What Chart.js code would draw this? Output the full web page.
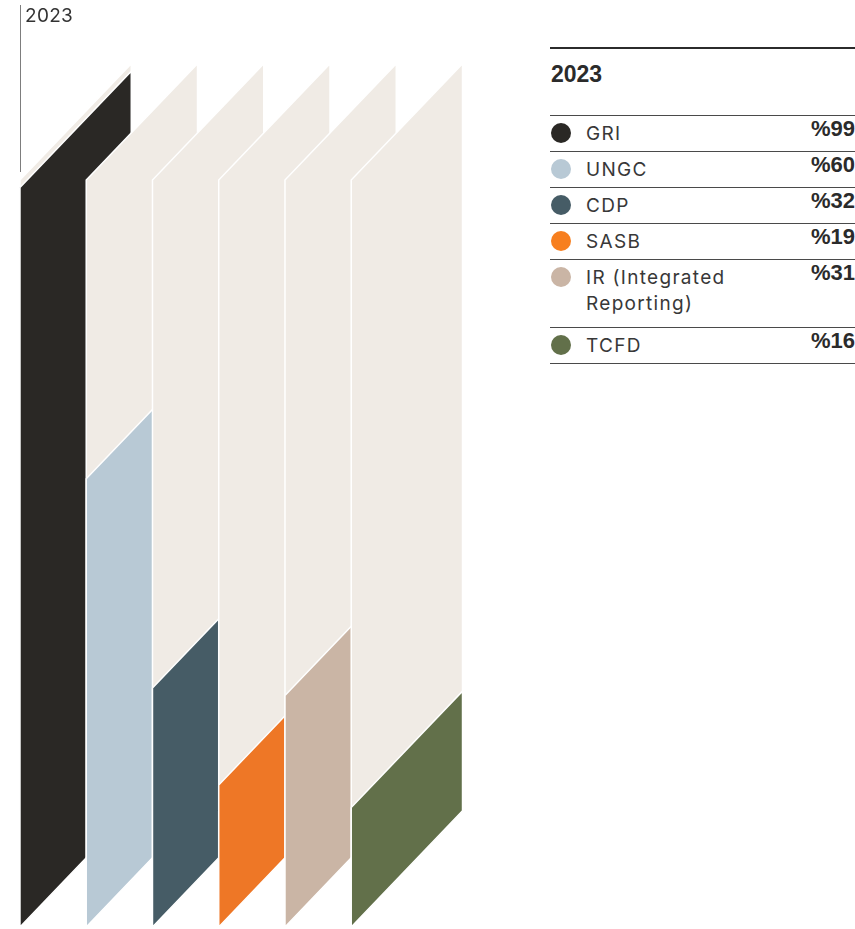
<!DOCTYPE html>
<html>
<head>
<meta charset="utf-8">
<script src="https://cdn.jsdelivr.net/npm/chart.js@4.4.1/dist/chart.umd.min.js"></script>
<style>
  html, body { margin:0; padding:0; background:#ffffff; width:855px; height:929px; overflow:hidden; }
  body { position:relative; font-family: Inter, "Noto Sans", sans-serif; color:#333; }
  #chartBox { position:absolute; left:0; top:0; width:480px; height:929px; }
  #yearTag { position:absolute; left:20px; top:5px; height:167px; border-left:1.5px solid #7d7d7d;
             padding-left:4px; font-size:19px; line-height:21px; color:#333; letter-spacing:0.3px; }
  #legend { position:absolute; left:550px; top:47px; width:305px; border-top:2px solid #2b2b2b; }
  #legendTitle { height:66px; font-family:"Liberation Sans", Arial, sans-serif; font-weight:bold;
                 font-size:23px; line-height:50px; color:#2b2b2b; padding-left:1px;
                 border-bottom:1px solid #4a4a4a; }
  .row { position:relative; border-bottom:1px solid #4a4a4a; box-sizing:border-box; }
  .dot { position:absolute; left:1px; width:20px; height:20px; border-radius:50%; }
  .lab { position:absolute; left:36px; width:190px; font-size:19px; line-height:26px; color:#383838;
         letter-spacing:1.3px; }
  .val { position:absolute; right:0; font-family:"Liberation Sans", Arial, sans-serif; font-weight:bold;
         font-size:22px; line-height:26px; color:#2b2b2b; }
</style>
</head>
<body>
<div id="chartBox"><canvas id="c" width="480" height="929"></canvas></div>
<div id="yearTag">2023</div>
<div id="legend"><div id="legendTitle">2023</div></div>
<script>
// ---- data ----
const categories = ['GRI', 'UNGC', 'CDP', 'SASB', 'IR (Integrated Reporting)', 'TCFD'];
const values = [99, 60, 32, 19, 31, 16];
const fullScale = [100, 100, 100, 100, 100, 100];
const valueLabels = ['%99', '%60', '%32', '%19', '%31', '%16'];
const yearLabel = '2023';

// ---- styles ----
const barColors = ['#2a2825', '#b8c9d5', '#465c66', '#ee7726', '#cab5a5', '#62704a'];
const dotColors = ['#2a2825', '#b8c9d5', '#465c66', '#f77f1f', '#cab5a5', '#62704a'];
const BEIGE = '#f0ebe5';
const SLANT = 1.045;

const slantPlugin = {
  id: 'slant',
  beforeDatasetsDraw(chart) {
    const c = chart.ctx;
    const metas = [chart.getDatasetMeta(0), chart.getDatasetMeta(1)];
    c.save();
    for (let i = 0; i < categories.length; i++) {
      metas.forEach(meta => {
        const el = meta.data[i];
        const p = el.getProps(['x', 'y', 'base', 'width'], true);
        const l = p.x - p.width / 2, r = p.x + p.width / 2;
        const rise = SLANT * p.width;
        c.beginPath();
        c.moveTo(l, p.base);
        c.lineTo(l, p.y);
        c.lineTo(r, p.y - rise);
        c.lineTo(r, p.base - rise);
        c.closePath();
        c.fillStyle = el.options.backgroundColor;
        c.fill();
        c.lineWidth = 1.5;
        c.lineJoin = 'miter';
        c.strokeStyle = '#ffffff';
        c.stroke();
      });
    }
    c.restore();
    return false;
  }
};

new Chart(document.getElementById('c'), {
  type: 'bar',
  data: {
    labels: categories,
    datasets: [
      { label: '100%', data: fullScale, backgroundColor: BEIGE },
      { label: yearLabel, data: values, backgroundColor: barColors }
    ]
  },
  options: {
    responsive: false,
    animation: false,
    devicePixelRatio: 1,
    layout: { padding: { left: 42.5, right: 40, top: 180, bottom: 2 } },
    datasets: { bar: { grouped: false, categoryPercentage: 1, barPercentage: 1.68 } },
    scales: {
      x: { display: false },
      y: { display: false, min: 0, max: 100 }
    },
    plugins: { legend: { display: false }, tooltip: { enabled: false } }
  },
  plugins: [slantPlugin]
});

// ---- legend table ----
const legend = document.getElementById('legend');
categories.forEach((name, i) => {
  const row = document.createElement('div');
  row.className = 'row';
  const twoLine = name.length > 16;
  row.style.height = (twoLine ? 68 : 36) + 'px';
  const dot = document.createElement('div');
  dot.className = 'dot';
  dot.style.top = '7px';
  dot.style.background = dotColors[i];
  const lab = document.createElement('div');
  lab.className = 'lab';
  lab.style.top = '5px';
  lab.textContent = name;
  const val = document.createElement('div');
  val.className = 'val';
  val.style.top = '0px';
  val.textContent = valueLabels[i];
  row.appendChild(dot); row.appendChild(lab); row.appendChild(val);
  legend.appendChild(row);
});
</script>
</body>
</html>
